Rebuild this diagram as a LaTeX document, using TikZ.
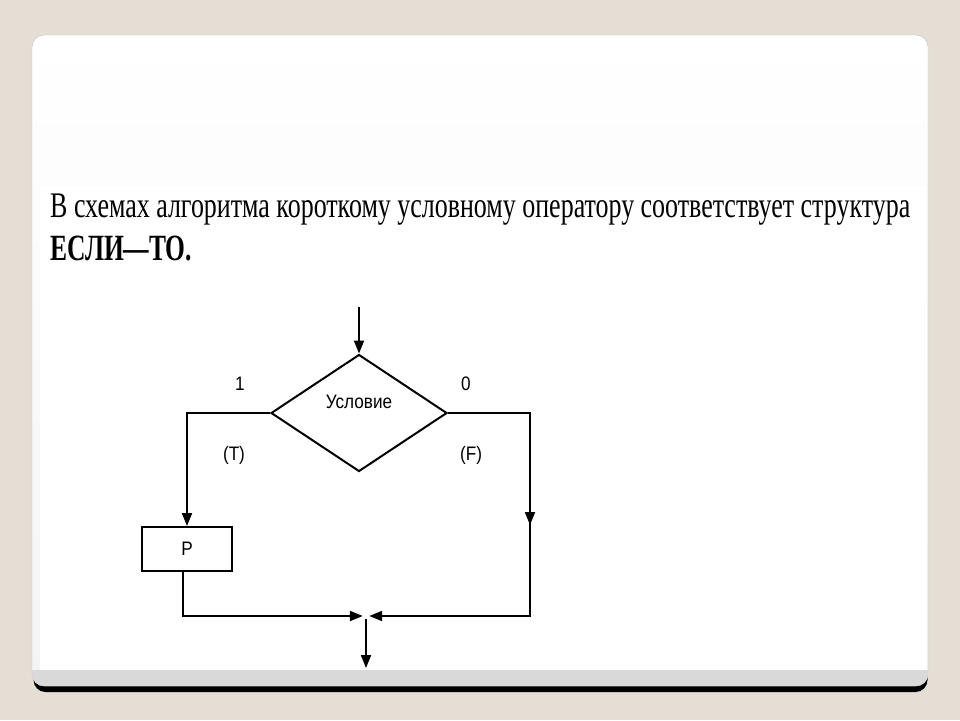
\documentclass[tikz,border=0pt]{standalone}
\usepackage{fontspec}
\setmainfont{Liberation Serif}
\newfontfamily\schemefont[FakeStretch=0.88]{Liberation Sans}
\usepackage{graphicx}
\usepackage{xcolor}
\usepackage{tikz}
\usetikzlibrary{
	arrows.meta,shapes.geometric
}

\definecolor{slidebg}{RGB}{228,222,212}
\definecolor{cardedge}{RGB}{190,190,190}
\definecolor{cardband}{RGB}{217,217,217}
\definecolor{cardtop}{RGB}{244,244,244}

\begin{document}
\begin{tikzpicture}[x=1pt,y=-1pt,
	decision/.style={diamond,draw,line width=2pt,minimum width=176pt,minimum height=117pt,inner sep=0pt},
	block/.style={rectangle,draw,line width=2pt,minimum width=90pt,minimum height=44pt,inner sep=0pt,font=\schemefont\fontsize{19.5}{19.5}\selectfont},
	lbl/.style={inner sep=0pt,font=\schemefont\fontsize{19.5}{19.5}\selectfont},
	hv/.style={to path={-| (\tikztotarget)}},
	vh/.style={to path={|- (\tikztotarget)}}
]
		% slide
		\useasboundingbox (0,0) rectangle (960,720);
		\fill[slidebg] (0,0) rectangle (960,720);
		\fill[black,rounded corners=12pt] (33.5,640) rectangle (927.5,692);
		\shade[top color=white,bottom color=cardtop,draw=cardedge,rounded corners=12pt] (32,35) rectangle (928,686);
		\begin{scope}
			\clip[rounded corners=12pt] (32,35) rectangle (928,686);
			\fill[cardband] (0,670) rectangle (960,720);
		\end{scope}
		\fill[white] (40,186) rectangle (927,670);
		%
		\node[inner sep=0pt,anchor=base west] (line1) at (50,217)
			{\resizebox{860pt}{\height}{\fontsize{36}{36}\selectfont В схемах алгоритма короткому условному оператору соответствует структура}};
		\node[inner sep=0pt,anchor=base west] (line2) at (50,260)
			{\resizebox{142pt}{\height}{\fontsize{37}{37}\selectfont\bfseries ЕСЛИ—ТО.}};
		%
		\coordinate (entry) at (359,307);
		\node[decision] (cond) at (359,413) {};
		\node[block] (task) at (187,549) {P};
		\node[inner sep=0pt,minimum size=6pt] (join) at (366,616) {};
		\coordinate (rtop) at (530,413);
		\coordinate (rmid) at (530,525);
		\coordinate (tout) at (183,571);
		\coordinate (exit) at (366,668);
		%
		\path[-{Triangle[length=13pt,width=10pt]},line width=2pt]
			(entry) edge (cond)
			(cond.west) edge[hv] (task.north)
			(cond.east) edge[hv] (rmid)
			(rtop) edge[vh] (join.east)
			(tout) edge[vh] (join.west)
			(join) edge (exit);
		%
		\node[lbl] (condtxt) at (359,402) {Условие};
		\node[lbl] (one) at (240,384) {1};
		\node[lbl] (zero) at (466,384) {0};
		\node[lbl] (tru) at (234,455) {(T)};
		\node[lbl] (fls) at (471,455) {(F)};
	\end{tikzpicture}
\end{document}
